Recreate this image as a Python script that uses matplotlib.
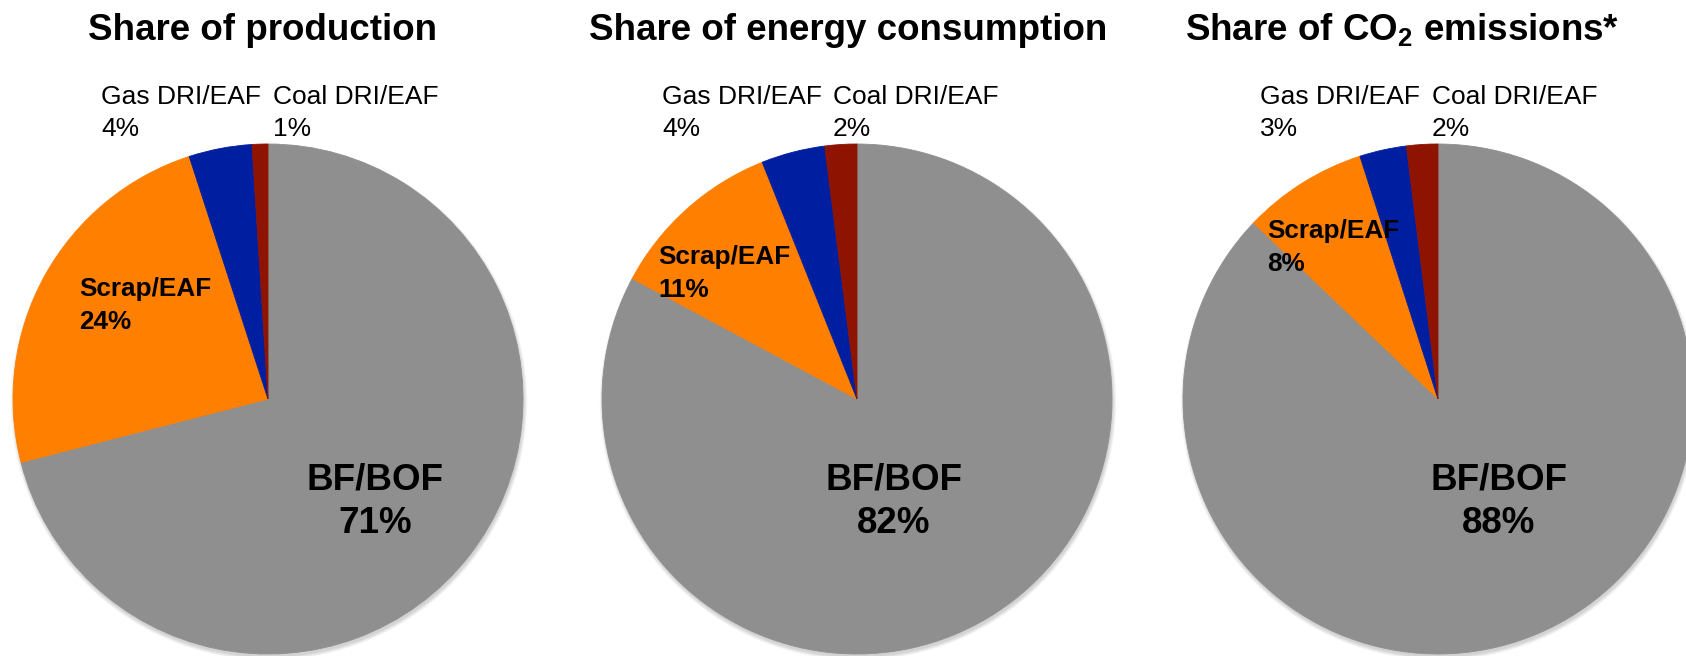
import matplotlib.pyplot as plt
from matplotlib.patches import Circle

plt.rcParams['font.family'] = ['Liberation Sans', 'DejaVu Sans']
plt.rcParams['mathtext.default'] = 'regular'

# Data
categories = ['BF/BOF', 'Scrap/EAF', 'Gas DRI/EAF', 'Coal DRI/EAF']
titles = ['Share of production', 'Share of energy consumption',
          'Share of CO$_2$ emissions*']
production = [71, 24, 4, 1]
energy = [82, 11, 4, 2]
co2 = [88, 8, 3, 2]
colors = ['#8f8f8f', '#ff7f00', '#001fa0', '#8e1300']

# Layout, in pixels (x from left, y from top)
W, H = 1686, 656
CENTERS_X = [268, 857, 1438]
CENTER_Y = 399
RADIUS = 255
TITLE_X = [262, 848, 1402]
TITLE_Y = 40
BF_DX = [107, 37, 61]
SCRAP_POS = [(79, 296), (658, 264), (1267, 238)]
GAS_X = [101, 662, 1260]
COAL_X = [273, 833, 1432]


def py(y):
    # convert a pixel y (from top) to data y
    return H - y


def draw_pie(ax, i, values):
    cx, cy = CENTERS_X[i], py(CENTER_Y)
    # soft shadow behind the pie
    for k in range(5):
        ax.add_patch(Circle((cx + 1, cy - 3), RADIUS + k * 0.8, color='black',
                            alpha=0.035, lw=0, zorder=0))
    wedges, _ = ax.pie(values, colors=colors, startangle=90, counterclock=False,
                       center=(cx, cy), radius=RADIUS)
    for w in wedges:
        w.set_edgecolor(w.get_facecolor())
        w.set_linewidth(0.6)

    # main slice label
    bx = cx + BF_DX[i]
    ax.text(bx, py(490), categories[0], ha='center', va='baseline',
            fontsize=26.5, fontweight='bold')
    ax.text(bx, py(533), f'{values[0]}%', ha='center', va='baseline',
            fontsize=26.5, fontweight='bold')

    # scrap label
    sx, sy = SCRAP_POS[i]
    ax.text(sx, py(sy), categories[1], ha='left', va='baseline',
            fontsize=18.8, fontweight='bold')
    ax.text(sx, py(sy + 33), f'{values[1]}%', ha='left', va='baseline',
            fontsize=18.8, fontweight='bold')

    # small slices, outside on top
    for x, name, v in [(GAS_X[i], categories[2], values[2]),
                       (COAL_X[i], categories[3], values[3])]:
        ax.text(x, py(104), name, ha='left', va='baseline', fontsize=19)
        ax.text(x, py(136), f'{v}%', ha='left', va='baseline', fontsize=19)

    ax.text(TITLE_X[i], py(TITLE_Y), titles[i], ha='center', va='baseline',
            fontsize=26.5, fontweight='bold')


def main():
    fig = plt.figure(figsize=(W / 100, H / 100), dpi=100)
    ax = fig.add_axes([0, 0, 1, 1])
    for i, values in enumerate([production, energy, co2]):
        draw_pie(ax, i, values)
    ax.set_xlim(0, W)
    ax.set_ylim(0, H)
    ax.set_aspect('equal')
    ax.axis('off')
    fig.savefig('out.png', dpi=100, facecolor='white')


if __name__ == "__main__":
    main()
